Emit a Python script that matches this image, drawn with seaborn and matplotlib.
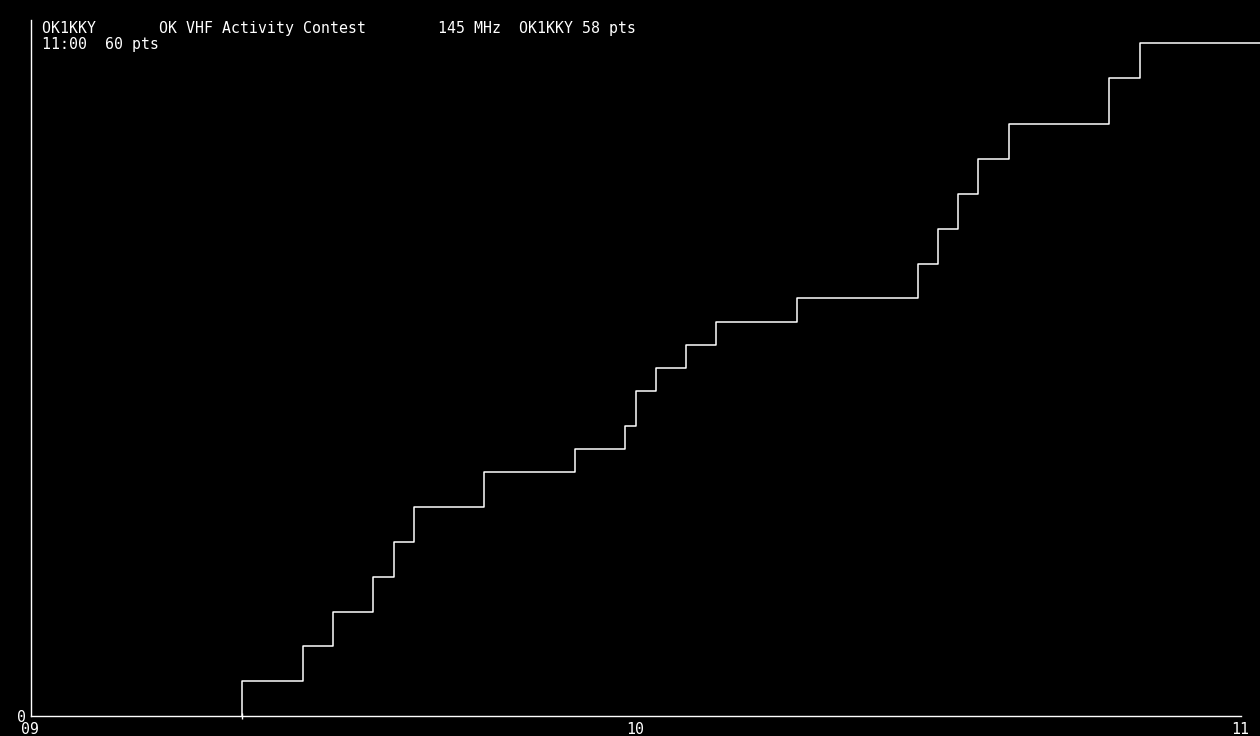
import pandas as pd
import matplotlib
matplotlib.use("Agg")
import matplotlib.pyplot as plt
import seaborn as sns

# QSO log: minutes after 09:00 and running score
minutes = [21, 27, 30, 34, 36, 38, 45, 54, 59, 60, 62, 65, 68, 76,
           88, 90, 92, 94, 97, 107, 110, 122]
points = [3, 6, 9, 12, 15, 18, 21, 23, 25, 28, 30, 32, 34, 36,
          39, 42, 45, 48, 51, 55, 58, 58]
start_minute = 21
hour_ticks = [0, 60, 120]
hour_labels = ["09", "10", "11"]
y_ticks = [0]
y_max = 60

header_1 = "OK1KKY       OK VHF Activity Contest        145 MHz  OK1KKY 58 pts"
header_2 = "11:00  60 pts"

sns.set_theme(style="dark")
plt.rcParams["font.family"] = ["DejaVu Sans Mono", "DejaVu Sans"]

df = pd.DataFrame({"minute": [start_minute] + minutes, "pts": [0] + points})

W, H = 1260, 736
fig = plt.figure(figsize=(W / 100, H / 100), dpi=100, facecolor="black")
x0, y_top, y_bot = 30.5, 20, 716
ax = fig.add_axes([x0 / W, (H - y_bot) / H, (W - x0) / W, (y_bot - y_top) / H])
ax.set_facecolor("black")

sns.lineplot(data=df, x="minute", y="pts", drawstyle="steps-post",
             estimator=None, color="white", linewidth=1.1, ax=ax)
ax.plot([start_minute], [0], marker="|", color="white", markersize=5,
        markeredgewidth=1, clip_on=False)

px_per_min = 605 / 60
ax.set_xlim(0, (W - x0) / px_per_min)
ax.set_ylim(0, y_max)
ax.grid(False)

for s in ["top", "right"]:
    ax.spines[s].set_visible(False)
for s in ["left", "bottom"]:
    ax.spines[s].set_color("white")
    ax.spines[s].set_linewidth(1)
ax.spines["bottom"].set_bounds(0, 120)
ax.spines["left"].set_bounds(0, y_max)

ax.set_xticks(hour_ticks)
ax.set_xticklabels(hour_labels)
ax.set_yticks(y_ticks)
ax.set_yticklabels([str(v) for v in y_ticks])
ax.tick_params(axis="both", colors="white", length=3, width=1, pad=1,
               labelsize=10.7, direction="out")
ax.tick_params(axis="y", pad=0)
ax.set_xlabel("")
ax.set_ylabel("")

fig.text(42 / W, 1 - 28 / H, header_1, color="white", fontsize=10.7,
         va="center", ha="left")
fig.text(42 / W, 1 - 44 / H, header_2, color="white", fontsize=10.7,
         va="center", ha="left")

fig.savefig("out.png", dpi=100, facecolor="black")
